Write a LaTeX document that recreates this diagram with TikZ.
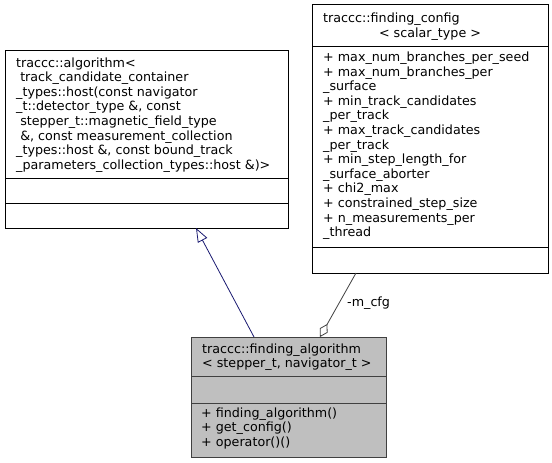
\documentclass[tikz,border=0pt]{standalone}
\usepackage{fontspec}
\setmainfont{DejaVu Sans}
\usetikzlibrary{arrows.meta}
\definecolor{inhcol}{HTML}{191970}
\definecolor{aggcol}{HTML}{404040}
\definecolor{hlfill}{HTML}{BFBFBF}
\begin{document}
\begin{tikzpicture}[x=1pt,y=-1pt,
  txt/.style={font=\fontsize{12.7}{14.6}\selectfont, inner sep=0pt, align=left, anchor=base west},
  box/.style={draw=black, line width=0.9pt, fill=white, inner sep=0pt, outer sep=0pt, anchor=north west},
  sep/.style={draw=black, line width=0.9pt},
  inh/.style={draw=inhcol, line width=0.8pt, -{Triangle[open, length=14pt, width=10.5pt]}},
  agg/.style={draw=aggcol, line width=0.8pt, -{Diamond[open, length=15pt, width=9pt]}},
]
\useasboundingbox (0,0) rectangle (552,463);
% Box A : traccc::algorithm<...>
\node[box, minimum width=283pt, minimum height=178pt] (A) at (5,50) {};
\draw[sep] (5,178) -- (288,178);
\draw[sep] (5,203) -- (288,203);
\node[txt] (Atitle) at (16,169.2) {traccc::algorithm<\\
\hspace*{0.32em}track\_candidate\_container\\
\_types::host(const navigator\\
\_t::detector\_type \&, const\\
\hspace*{0.32em}stepper\_t::magnetic\_field\_type\\
\hspace*{0.32em}\&, const measurement\_collection\\
\_types::host \&, const bound\_track\\
\_parameters\_collection\_types::host \&)>};
% Box B : traccc::finding_config
\node[box, minimum width=236pt, minimum height=269pt] (B) at (312,4) {};
\draw[sep] (312,46) -- (548,46);
\draw[sep] (312,247) -- (548,247);
\node[txt] (Btitle1) at (323,22.5) {traccc::finding\_config};
\node[txt, anchor=base] (Btitle2) at (430,37) {< scalar\_type >};
\node[txt] (Battr) at (323,236.7) {+ max\_num\_branches\_per\_seed\\
+ max\_num\_branches\_per\\
\_surface\\
+ min\_track\_candidates\\
\_per\_track\\
+ max\_track\_candidates\\
\_per\_track\\
+ min\_step\_length\_for\\
\_surface\_aborter\\
+ chi2\_max\\
+ constrained\_step\_size\\
+ n\_measurements\_per\\
\_thread};
% Box C : traccc::finding_algorithm
\node[box, fill=hlfill, draw=aggcol, minimum width=195pt, minimum height=120pt] (C) at (191,337) {};
\draw[sep, draw=aggcol] (191,376) -- (386,376);
\draw[sep, draw=aggcol] (191,403) -- (386,403);
\node[txt] (Ctitle) at (202,367.6) {traccc::finding\_algorithm\\
< stepper\_t, navigator\_t >};
\node[txt] (Cmeth) at (201,446.2) {+ finding\_algorithm()\\
+ get\_config()\\
+ operator()()};
% connectors
\draw[inh] (254,0 |- C.north) -- (196,0 |- A.south);
\draw[agg] (356,0 |- B.south) -- (320,0 |- C.north);
\node[txt, anchor=west] (lbl) at (347,303) {-m\_cfg};
\end{tikzpicture}
\end{document}
